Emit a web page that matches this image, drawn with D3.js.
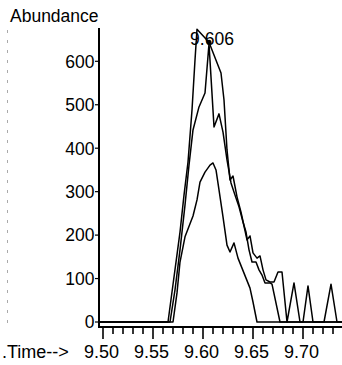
<!DOCTYPE html>
<html><head><meta charset="utf-8">
<script src="https://cdn.jsdelivr.net/npm/d3@7/dist/d3.min.js"></script>
<style>
html,body{margin:0;padding:0;background:#fff;}
svg{display:block;font-family:"Liberation Sans",Arial,Helvetica,sans-serif;}
</style></head><body>
<svg id="chart" width="342" height="365"></svg>
<script>
// Trace A (tallest)
const timeA = [9.496,9.565,9.569,9.573,9.577,9.581,9.585,9.589,9.592,9.594,9.606,9.618,9.621,9.624,9.627,9.630,9.634,9.638,9.641,9.644,9.647,9.650,9.654,9.657,9.660,9.663,9.667,9.671,9.675,9.679,9.684,9.691,9.697,9.700,9.705,9.710,9.721,9.728,9.734,9.740];
const abundA = [0,0,69,138,207,292,368,488,603,674,644,573,511,396,327,336,288,253,221,189,198,159,147,152,120,97,92,92,115,115,0,90,0,0,83,0,0,87,0,0];
// Trace B (middle)
const timeB = [9.496,9.567,9.572,9.577,9.582,9.586,9.590,9.596,9.602,9.606,9.611,9.616,9.620,9.624,9.628,9.632,9.636,9.640,9.643,9.646,9.649,9.653,9.656,9.659,9.662,9.667,9.669,9.677,9.740];
const abundB = [0,0,74,166,269,361,442,495,527,640,449,479,437,373,320,292,265,230,207,166,138,138,120,108,90,90,87,0,0];
// Trace C (lowest)
const timeC = [9.496,9.570,9.574,9.577,9.582,9.587,9.590,9.594,9.597,9.602,9.607,9.610,9.613,9.616,9.620,9.624,9.627,9.631,9.635,9.639,9.643,9.647,9.650,9.654,9.740];
const abundC = [0,0,67,138,196,226,244,281,322,345,361,366,350,304,242,177,161,182,147,124,101,78,46,0,0];

const yTicks = [0,100,200,300,400,500,600];
const xMajor = [9.50,9.55,9.60,9.65,9.70];
const xMinor = [9.51,9.52,9.53,9.54,9.56,9.57,9.58,9.59,9.61,9.62,9.63,9.64,9.66,9.67,9.68,9.69,9.71,9.72,9.73,9.74];
const peakLabel = {time: 9.606, value: 644, text: "9.606"};

const svg = d3.select("#chart");
const x = d3.scaleLinear().domain([9.50, 9.70]).range([103, 303]);
const y = d3.scaleLinear().domain([0, 600]).range([322, 61.3]);
const axisY = 327;

// faint scan artifact on left edge
svg.append("line").attr("x1",7.5).attr("x2",7.5).attr("y1",30).attr("y2",330)
  .attr("stroke","#aaa").attr("stroke-width",1).attr("stroke-dasharray","3,7");

svg.append("clipPath").attr("id","clip").append("rect")
  .attr("x",99).attr("y",0).attr("width",243).attr("height",330);

const line = d3.line().x(d=>x(d[0])).y(d=>y(d[1]));
const g = svg.append("g").attr("clip-path","url(#clip)");
[[timeA,abundA],[timeB,abundB],[timeC,abundC]].forEach(([t,v])=>{
  g.append("path").datum(t.map((d,i)=>[d,v[i]]))
    .attr("d",line).attr("fill","none").attr("stroke","#000")
    .attr("stroke-width",1.5).attr("stroke-linejoin","round");
});

// y axis
svg.append("line").attr("x1",99).attr("x2",99).attr("y1",28).attr("y2",axisY)
  .attr("stroke","#000").attr("stroke-width",2);
const yAxis = svg.append("g");
yTicks.forEach(v=>{
  yAxis.append("line").attr("x1",95).attr("x2",99).attr("y1",y(v)).attr("y2",y(v))
    .attr("stroke","#000").attr("stroke-width",1.2);
  yAxis.append("text").attr("x",94.5).attr("y",y(v)).attr("dy","0.36em")
    .attr("text-anchor","end").attr("font-size",17.5).text(v);
});

// x axis
svg.append("line").attr("x1",98).attr("x2",342).attr("y1",axisY).attr("y2",axisY)
  .attr("stroke","#000").attr("stroke-width",2.2);
xMinor.forEach(t=>{
  svg.append("line").attr("x1",x(t)).attr("x2",x(t)).attr("y1",axisY).attr("y2",axisY+7)
    .attr("stroke","#000").attr("stroke-width",1.6);
});
xMajor.forEach(t=>{
  svg.append("line").attr("x1",x(t)).attr("x2",x(t)).attr("y1",axisY).attr("y2",axisY+12)
    .attr("stroke","#000").attr("stroke-width",1.6);
  svg.append("text").attr("x",x(t)-1.5).attr("y",358).attr("text-anchor","middle")
    .attr("font-size",18).text(t.toFixed(2));
});

svg.append("text").attr("x",2).attr("y",358).attr("font-size",18).text(".Time-->");
svg.append("text").attr("x",10).attr("y",22).attr("font-size",17.5).text("Abundance");

// peak label
svg.append("circle").attr("cx",x(peakLabel.time)).attr("cy",y(peakLabel.value)).attr("r",2.5).attr("fill","#000");
svg.append("text").attr("x",x(peakLabel.time)+3).attr("y",45).attr("text-anchor","middle")
  .attr("font-size",17.5).text(peakLabel.text);
</script>
</body></html>
